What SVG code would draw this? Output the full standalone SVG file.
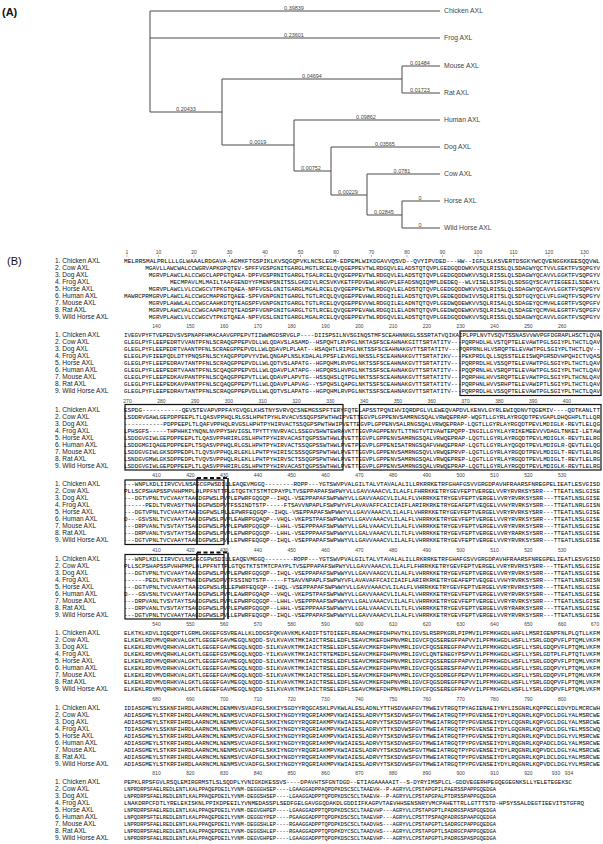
<svg xmlns="http://www.w3.org/2000/svg" width="603" height="844" viewBox="0 0 603 844">
<style>
.pl{font-family:"Liberation Sans",Arial,sans-serif;font-size:11px;fill:#111}
.tr{stroke:#4a4a4a;stroke-width:1;fill:none}
.tl{font-family:"Liberation Sans",Arial,sans-serif;font-size:6.8px;fill:#444}
.bl{font-family:"Liberation Sans",Arial,sans-serif;font-size:5.5px;fill:#444;text-anchor:middle}
.lb{font-family:"Liberation Sans",Arial,sans-serif;font-size:6.6px;fill:#1a1a1a}
.sq{font-family:"Liberation Mono","DejaVu Sans Mono",monospace;font-size:5.5px;fill:#000}
.s8{font-size:5.3px}
.ru{font-family:"Liberation Sans",Arial,sans-serif;font-size:5px;fill:#444;text-anchor:middle}
.bx{fill:none;stroke:#111;stroke-width:1.2}
.vl{stroke:#111;stroke-width:1.6}
.dl{stroke:#111;stroke-width:2;stroke-dasharray:4 2.5}
</style>
<rect width="603" height="844" fill="#fff"/>
<text class="pl" x="2" y="16" font-weight="bold">(A)</text>
<text class="pl" x="7" y="265">(B)</text>

<g id="tree-connectors">
<path class="tr" d="M150,11V112 M150,11H440 M150,38H440 M150,112H222 M222,79V145 M222,79H402 M402,66V93 M402,66H440 M402,93H440 M222,145H294 M294,120V171 M294,120H440 M294,171H331 M331,147V195 M331,147H440 M331,195H367 M367,174V215 M367,174H440 M367,215H402 M402,201V228 M402,201H440 M402,228H440"/>
<text class="bl" x="294" y="9.5">0.39839</text>
<text class="bl" x="294" y="36.5">0.23601</text>
<text class="bl" x="186" y="110.5">0.20433</text>
<text class="bl" x="258" y="143.5">0.0019</text>
<text class="bl" x="312" y="77.5">0.04694</text>
<text class="bl" x="420" y="64.5">0.01484</text>
<text class="bl" x="420" y="91.5">0.01723</text>
<text class="bl" x="366" y="118.5">0.09862</text>
<text class="bl" x="385" y="145.5">0.03565</text>
<text class="bl" x="311" y="169.5">0.00752</text>
<text class="bl" x="402" y="172.5">0.0781</text>
<text class="bl" x="348" y="193.5">0.00229</text>
<text class="bl" x="384" y="213.5">0.02845</text>
<text class="bl" x="420" y="199.5">0</text>
<text class="bl" x="420" y="226.5">0</text>
</g>
<g id="leaf-chicken"><text class="tl" x="444" y="13.4">Chicken AXL</text></g>
<g id="leaf-frog"><text class="tl" x="444" y="40.4">Frog AXL</text></g>
<g id="leaf-mouse"><text class="tl" x="444" y="68.4">Mouse AXL</text></g>
<g id="leaf-rat"><text class="tl" x="444" y="95.4">Rat AXL</text></g>
<g id="leaf-human"><text class="tl" x="444" y="122.4">Human AXL</text></g>
<g id="leaf-dog"><text class="tl" x="444" y="149.4">Dog AXL</text></g>
<g id="leaf-cow"><text class="tl" x="444" y="176.4">Cow AXL</text></g>
<g id="leaf-horse"><text class="tl" x="444" y="203.4">Horse AXL</text></g>
<g id="leaf-wildhorse"><text class="tl" x="444" y="230.4">Wild Horse AXL</text></g>

<!-- Block 1 -->
<g id="block1" transform="translate(0,4)">
<g class="ru"><text x="127" y="249.8">1</text><text x="158.5" y="249.8">10</text><text x="194" y="249.8">20</text><text x="229.5" y="249.8">30</text><text x="265" y="249.8">40</text><text x="300.5" y="249.8">50</text><text x="336" y="249.8">60</text><text x="371.5" y="249.8">70</text><text x="407" y="249.8">80</text><text x="442.5" y="249.8">90</text><text x="478" y="249.8">100</text><text x="513.5" y="249.8">110</text><text x="549" y="249.8">120</text><text x="584.5" y="249.8">130</text></g>
<path stroke="#666" stroke-width="0.5" d="M127,251V253 M158.5,251V253 M194,251V253 M229.5,251V253 M265,251V253 M300.5,251V253 M336,251V253 M371.5,251V253 M407,251V253 M442.5,251V253 M478,251V253 M513.5,251V253 M549,251V253 M584.5,251V253"/>
<text class="lb" x="55" y="258.7">1. Chicken AXL</text>
<text class="lb" x="55" y="265.7">2. Cow AXL</text>
<text class="lb" x="55" y="272.7">3. Dog AXL</text>
<text class="lb" x="55" y="279.7">4. Frog AXL</text>
<text class="lb" x="55" y="286.7">5. Horse AXL</text>
<text class="lb" x="55" y="293.7">6. Human AXL</text>
<text class="lb" x="55" y="300.7">7. Mouse AXL</text>
<text class="lb" x="55" y="307.7">8. Rat AXL</text>
<text class="lb" x="55" y="314.7">9. Wild Horse AXL</text>
<text class="sq" x="124" y="258.7" textLength="476" lengthAdjust="spacingAndGlyphs">MELRRSMALPRLLLLGLWAAALRDGAVA-AGMKFTGSPIKLKVSQGQPVKLNCSLEGM-EDPEMLWIKDGAVVQSVD--QVYIPVDED---HW--IGFLSLKSVERTDSGKYWCQVENGGKKEESQQVWL</text>
<text class="sq" x="145.2" y="265.7" textLength="454.8" lengthAdjust="spacingAndGlyphs">MGAVLLAWCWALCCWGRVAPKGPQTEV-SPFFVGSPGNITGARGLMGTLRCELQVQGEPPEVTWLRDGQVLELADSTQTQVPLGEDGQDDWKVVSQLRISSLQLSDAGWYQCTVVLGEKTFVSQPGYV</text>
<text class="sq" x="148.8" y="272.7" textLength="451.2" lengthAdjust="spacingAndGlyphs">MGRVPLAWCLALCCWGCLAPPGTQAEA-DPFVGSPRNITGARGLTGALRCELQVQGEPPEVTWLRDGQVLELADSTQTQVPLGEDGQDDWKVVSQLRISSLQLSDAGWYQCAVVLGGKTFVSQPGYV</text>
<text class="sq" x="170" y="279.7" textLength="430" lengthAdjust="spacingAndGlyphs">MECMPAVLMLMAILTAAFGENDYYFMENPSNITSSLGKDIVLRCSVKVKETFPDVEWLHNGVPLEFADSNQIQMPLDEDEQ--WLVISELSIPSLQLSDSGQYSCAVTIEGEEILSDEAYL</text>
<text class="sq" x="148.8" y="286.7" textLength="451.2" lengthAdjust="spacingAndGlyphs">MGRVPLAWCLVLCCWGCVTPKGTQAEA-NPFVGSLGNITGARGLMGALRCELQVQGEPPEVTWLRDGQVLELADSTQTQVPLGEDGQDDWKVVSQLRISSLQLSDAGWYQCAVVLGGKTFVSQPGYV</text>
<text class="sq" x="124" y="293.7" textLength="476" lengthAdjust="spacingAndGlyphs">MAWRCPRMGRVPLAWCLALCCWGCMAPRGTQAEE-SPFVGNPGNITGARGLTGTLRCQLQVQGEPPEVHWLRDGQILELADSTQTQVPLGEDEQDDWIVVSQLRITSLQLSDTGQYQCLVFLGHQTFVSQPGYV</text>
<text class="sq" x="148.8" y="300.7" textLength="451.2" lengthAdjust="spacingAndGlyphs">MGRVPLAWWLALCCWGCAAHKDTQTEAGSPFVGNPGNITGARGLTGTLRCELQVQGEPPEVVWLRDGQILELADNTQTQVPLGEDWQDEWKVVSQLRISALQLSDAGEYQCMVHLEGRTFVSQPGFV</text>
<text class="sq" x="148.8" y="307.7" textLength="451.2" lengthAdjust="spacingAndGlyphs">MGRVPLAWCVALCCWGCAAPKDTQTEADSPFVGNPGNITGARGLTGTLRCELQVQGEPPEVAWLRDGQILELADNTQTQVPLGEDWQDEWKVVSQLRISALQLSDAGEYQCMVHLEGRTFVSQPGFV</text>
<text class="sq" x="148.8" y="314.7" textLength="451.2" lengthAdjust="spacingAndGlyphs">MGRVPLAWCLVLCCWGCVTPKGTQAEA-NPFVGSLGNITGARGLMGALRCELQVQGEPPEVTWLRDGQVLELADSTQTQVPLGEDGQDDWKVVSQLRISSLQLSDAGWYQCAVVLGGKTFVSQPGYV</text>
</g>

<!-- Block 2 -->
<g id="block2" transform="translate(0,3.5)">
<g class="ru"><text x="156.5" y="324.8">140</text><text x="190.3" y="324.8">150</text><text x="224.1" y="324.8">160</text><text x="257.9" y="324.8">170</text><text x="291.7" y="324.8">180</text><text x="325.5" y="324.8">190</text><text x="359.3" y="324.8">200</text><text x="393.1" y="324.8">210</text><text x="426.9" y="324.8">220</text><text x="460.7" y="324.8">230</text><text x="494.5" y="324.8">240</text><text x="528.3" y="324.8">250</text><text x="562.1" y="324.8">260</text></g>
<text class="lb" x="55" y="333.7">1. Chicken AXL</text>
<text class="lb" x="55" y="340.7">2. Cow AXL</text>
<text class="lb" x="55" y="347.7">3. Dog AXL</text>
<text class="lb" x="55" y="354.7">4. Frog AXL</text>
<text class="lb" x="55" y="361.7">5. Horse AXL</text>
<text class="lb" x="55" y="368.7">6. Human AXL</text>
<text class="lb" x="55" y="375.7">7. Mouse AXL</text>
<text class="lb" x="55" y="382.7">8. Rat AXL</text>
<text class="lb" x="55" y="389.7">9. Wild Horse AXL</text>
<text class="sq" x="124" y="333.7" textLength="476" lengthAdjust="spacingAndGlyphs">IVEGVPYFTVEPEDVSVSPNAPFHMACAAVGPPEPVTIIWWMGDSRVGLP----DIISPSILNVSGINQSTMFSCEAHNNKGLSSSRTATVQIKAIPLPPLNVTVSQVTSSNASVVWVPGFDGRAPLHSCTLQVA</text>
<text class="sq" x="124" y="340.7" textLength="476" lengthAdjust="spacingAndGlyphs">GLEGLPYFLEEPEDRTVVANTPFNLSCRAQGPPEPVDLLWLQDAVSLASAMD--HSPQHTLRVPGLNKTASFSCEAHNAKGITTSRTATITV---PQRPHDLHLVSTQPTELEVAWTPGLSGIYPLTHCTLQAV</text>
<text class="sq" x="124" y="347.7" textLength="476" lengthAdjust="spacingAndGlyphs">GLEGLPYFLEEPEDRTVAANTPFNLSCRAEGPPEPVDLLWLQDAVPLPLAAT--HSAQHTLRIPGLNKTSSFSCEAHNAKGVTTSRTATITV---PQRPRNLHLVSRQPTELEVAWTPGLSGIYPLTHCTLQV--</text>
<text class="sq" x="124" y="354.7" textLength="476" lengthAdjust="spacingAndGlyphs">ELEGLPVFIEEPQDLDTYPNQSFNLSCYAQGPPDPVYVIWLQNGAPLNSLKDALALPPSFLEVKGLNKSSLFSCEAHNAKGVTTSRTATIKV---PEKPRDLQLLSQSSTELEISWQPGRSDVHPQHICTVQAS</text>
<text class="sq" x="124" y="361.7" textLength="476" lengthAdjust="spacingAndGlyphs">GLEGLPYFLEEPEDRAVTANTPFNLSCRAQGPPEPVDLLWLQDTVSLAPATG--HGPQHMLRVPGLNKTSSFSCEAHNAKGVTTSRTATITV---PQRPRDLHLVSSQPTELEVAWTPGLSGIYPLTHCTLQAV</text>
<text class="sq" x="124" y="368.7" textLength="476" lengthAdjust="spacingAndGlyphs">GLEGLPYFLEEPEDRTVAANTPFNLSCQAQGPPEPVDLLWLQDAVPLATAPG--HGPQRSLHVPGLNKTSSFSCEAHNAKGVTTSRTATITV---PQQPRNLHLVSRQPTELEVAWTPGLSGIYPLTHCTLQAV</text>
<text class="sq" x="124" y="375.7" textLength="476" lengthAdjust="spacingAndGlyphs">GLEGLPYFLEEPEDKAVPANTPFNLSCQAQGPPEPVTLLWLQDAVPLAPVTG--HSSQHSLQTPGLNKTSSFSCEAHNAKGVTTSRTATITV---PQRPHHLHVVSRQPTELEVAWTPGLSGIYPLTHCNLQAV</text>
<text class="sq" x="124" y="382.7" textLength="476" lengthAdjust="spacingAndGlyphs">GLEGLPYFLEEPEDKAVPANTPFNLSCQAQGPPEPVTLLWLQDAVPLAPVAG--YSPQHSLQAPGLNKTSSFSCEAHNAKGVTTSRTATITV---PQRPHNLHVVSRHPTELEVAWIPTLSGIYPLTHCTLQAV</text>
<text class="sq" x="124" y="389.7" textLength="476" lengthAdjust="spacingAndGlyphs">GLEGLPYFLEEPEDRAVTANTPFNLSCRAQGPPEPVDLLWLQDTVSLAPATG--HGPQHMLRVPGLNKTSSFSCEAHNAKGVTTSRTATITV---PQRPRDLHLVSSQPTELEVAWTPGLSGIYPLTHCTLQAV</text>
<rect class="bx" x="460" y="327.5" width="141" height="64.5"/>
</g>

<!-- Block 3 -->
<g id="block3" transform="translate(0,3)">
<g class="ru"><text x="127.5" y="399.8">270</text><text x="161.3" y="399.8">280</text><text x="195.1" y="399.8">290</text><text x="228.9" y="399.8">300</text><text x="262.7" y="399.8">310</text><text x="296.5" y="399.8">320</text><text x="330.3" y="399.8">330</text><text x="364.1" y="399.8">340</text><text x="397.9" y="399.8">350</text><text x="431.7" y="399.8">360</text><text x="465.5" y="399.8">370</text><text x="499.3" y="399.8">380</text><text x="533.1" y="399.8">390</text><text x="566.9" y="399.8">400</text></g>
<text class="lb" x="55" y="408.7">1. Chicken AXL</text>
<text class="lb" x="55" y="415.7">2. Cow AXL</text>
<text class="lb" x="55" y="422.7">3. Dog AXL</text>
<text class="lb" x="55" y="429.7">4. Frog AXL</text>
<text class="lb" x="55" y="436.7">5. Horse AXL</text>
<text class="lb" x="55" y="443.7">6. Human AXL</text>
<text class="lb" x="55" y="450.7">7. Mouse AXL</text>
<text class="lb" x="55" y="457.7">8. Rat AXL</text>
<text class="lb" x="55" y="464.7">9. Wild Horse AXL</text>
<text class="sq" x="124" y="408.7" textLength="476" lengthAdjust="spacingAndGlyphs">ESPDG-----------QEVSTEVAPVPPFAYGVQGLKHSTNYSVRVQCSNEMGSSPFTERYFQTELAPSSTPQNIHVIQRDPGLVLEWEQVAPDVLKENVLGYRLEWIQDNVTQGEMIV----QDTKANLTT</text>
<text class="sq" x="124" y="415.7" textLength="476" lengthAdjust="spacingAndGlyphs">LSDDRVGAWLGEPDPPEEPLTLQASVPPHQLRLGSLHPHTPYHLRVACVSSQGPSPWTHWIPVETTEGVPLGPPENVSAMRNGSQALVRWQEPRAP-WQGTLLGYRLAYRGQDTPEVGAPLDHQGHPLTLLQR</text>
<text class="sq" x="124" y="422.7" textLength="476" lengthAdjust="spacingAndGlyphs">-----------PDPPEEPLTLQAFVPPHQLRVGSLHPHTPYHIRVACTSSQGPSPWTHWIPVETTEGVPLGPPENVSALRNGSQALVRWQEPRAP-LQGTLLGYRLAYRGQDTPEVLMDIGLK-REVTLELQG</text>
<text class="sq" x="124" y="429.7" textLength="476" lengthAdjust="spacingAndGlyphs">LPHSGFS-----THPHHKIYNQNLNVPPYSHVIGSLTPYTTYNVRVACLSSEGVSHWTEWRAVKTTEGVPAGPPENVTLTTNGTVTIVAWTEPQPP-INGILLGYKLAYRIKEMEEVVVDAGLTNKEI-LETAW</text>
<text class="sq" x="124" y="436.7" textLength="476" lengthAdjust="spacingAndGlyphs">LSDDGVGIWLGEPDPPEEPLTLQASVPPHRIRLGSLHPHTPYHIRVACASTQGPSSWTHWLPVETTEGVPLGPPENVSAMRNGSQALVRWQEPRAP-LQGTLLGYRLAYRGQDTPEVLMDIGLK-REVTLELRG</text>
<text class="sq" x="124" y="443.7" textLength="476" lengthAdjust="spacingAndGlyphs">LSDDGMGIQAGEPDPPEEPLTSQASVPPHQLRLGSLHPHTPYHIRVACTSSQGPSSWTHWLPVETPEGVPLGPPENISATRNGSQAFVHWQEPRAP-LQGTLLGYRLAYQGQDTPEVLMDIGLR-QEVTLELQG</text>
<text class="sq" x="124" y="450.7" textLength="476" lengthAdjust="spacingAndGlyphs">LSDDGVGIWLGKSDPPEDPLTLQVSVPPHQLRLEKLLPHTPYHIRISCSSSQGPSPWTHWLPVETTEGVPLGPPENVSAMRNGSQVLVRWQEPRVP-LQGTLLGYRLAYRGQDTPEVLMDIGLT-REVTLELRG</text>
<text class="sq" x="124" y="457.7" textLength="476" lengthAdjust="spacingAndGlyphs">LSNDGVGMWLGKSDPPEDPLTVQVSVPPHQLRLEKLLPHTPYHIRVSCTSSQGPSPWTHWLPVETTEGVPLGPPENVSAMRNGSQALVRWQEPREP-LQGTLLGYRLAYRGQDTPEVLMDIGLT-REVTLELRG</text>
<text class="sq" x="124" y="464.7" textLength="476" lengthAdjust="spacingAndGlyphs">LSDDGVGIWLGEPDPPEEPLTLQASVPPHRIRLGSLHPHTPYHIRVACASTQGPSSWTHWLPVETTEGVPLGPPENVSAMRNGSQALVRWQEPRAP-LQGTLLGYRLAYRGQDTPEVLMDIGLK-REVTLELRG</text>
<rect class="bx" x="125" y="401.5" width="218" height="65.5"/>
<rect class="bx" x="359.5" y="401.5" width="241.5" height="65.5"/>
</g>

<!-- Block 4 -->
<g id="block4" transform="translate(0,2.5)">
<g class="ru"><text x="156.5" y="474.8">410</text><text x="190.3" y="474.8">420</text><text x="224.1" y="474.8">430</text><text x="257.9" y="474.8">440</text><text x="291.7" y="474.8">450</text><text x="325.5" y="474.8">460</text><text x="359.3" y="474.8">470</text><text x="393.1" y="474.8">480</text><text x="426.9" y="474.8">490</text><text x="460.7" y="474.8">500</text><text x="494.5" y="474.8">510</text><text x="528.3" y="474.8">520</text><text x="562.1" y="474.8">530</text></g>
<text class="lb" x="55" y="483.7">1. Chicken AXL</text>
<text class="lb" x="55" y="490.7">2. Cow AXL</text>
<text class="lb" x="55" y="497.7">3. Dog AXL</text>
<text class="lb" x="55" y="504.7">4. Frog AXL</text>
<text class="lb" x="55" y="511.7">5. Horse AXL</text>
<text class="lb" x="55" y="518.7">6. Human AXL</text>
<text class="lb" x="55" y="525.7">7. Mouse AXL</text>
<text class="lb" x="55" y="532.7">8. Rat AXL</text>
<text class="lb" x="55" y="539.7">9. Wild Horse AXL</text>
<text class="sq" x="124" y="483.7" textLength="476" lengthAdjust="spacingAndGlyphs">---WNPLKDLIIRVCVLNSAGCGPWSDILLEAQEVMGGQ--------ROPP---YGTSWVPVALGILTALVTAVALALILLRKRRKETRFGHAFGSVVGRGDPAVHFRAARSFNREGPELIEATLESVGISD</text>
<text class="sq" x="124" y="490.7" textLength="476" lengthAdjust="spacingAndGlyphs">PLLSCPSHAPSSPVHHPMPLHLPPFNTTPLGTQGTKTSTMTCPAYPLTVSEPPAPAFSWPWYVLLGAVVAAACVLILALFLFHRRKKETRYGEVFEPTVERGELVVRYRVRKSYSRR---TTEATLNSLGISE</text>
<text class="sq" x="124" y="497.7" textLength="476" lengthAdjust="spacingAndGlyphs">---DGTVPNLTVCVAAYTAAGDGPWSLPVPLEPWRFGQGQP--IHQL-VSEPPAPAFSWPWWYVLLGAVVAAGCVLILALFLVHRRKKETRYGEVFEPTVERGELVVRYRVRKSYSRR---TTEATLNSLGISE</text>
<text class="sq" x="124" y="504.7" textLength="476" lengthAdjust="spacingAndGlyphs">------PEDLTVRVASYTNAGDGPWSDPVTFSSINDTSTP-----FTSAVVNPAPLFSWPWYVFLAVAVAFFCAICIAIFLARIRKRKETRYGEAFEPTVEQGELVVHYRVRKSYSRR---TTEATLNRLGISN</text>
<text class="sq" x="124" y="511.7" textLength="476" lengthAdjust="spacingAndGlyphs">---DGTVPNLTVCVAAYTAAGDGPWSLPLLEPWRFEQGQP--IHQL-VSEPPAPAFSWPWWYVLLGAVVAAACVLILALFLVHRRKKETRYGEVFEPTVERGELVVRYRVRKSYSRR---TTEATLNSLGISE</text>
<text class="sq" x="124" y="518.7" textLength="476" lengthAdjust="spacingAndGlyphs">D---GSVSNLTVCVAAYTAAGDGPWSLPVPLEAWRPGQAQP--VHQL-VKEPSTPAFSWPWWYVLLGAVVAAACVLILALFLVHRRKKETRYGEVFEPTVERGELVVRYRVRKSYSRR---TTEATLNSLGISE</text>
<text class="sq" x="124" y="525.7" textLength="476" lengthAdjust="spacingAndGlyphs">---DRPVANLTVSVTAYTSAGDGPWSLPVPLEPWRPGQGQP--LHHL-VSEPPPAAFSWPWWYVLLGALVAAACVLILALFLVHRRKKETRYGEVFEPTVERGELVVRYRVRKSYSRR---TTEATLNSLGISE</text>
<text class="sq" x="124" y="532.7" textLength="476" lengthAdjust="spacingAndGlyphs">---DRPVANLTVSVTAYTSAGDGPWSLPVPLEPWRPGQGQP--LHHL-VSEPPPAAFSWPWWYVLLGALVAAACVLILTLFLVHRRKKETRYGEVFEPTVERGELVVRYRARKSYSRR---TTEATLNSLGISE</text>
<text class="sq" x="124" y="539.7" textLength="476" lengthAdjust="spacingAndGlyphs">---DGTVPNLTVCVAAYTAAGDGPWSLPVLLEPWRFEQGQP--IHQL-VSEPPAPAFSWPWWYVLLGAVVAAACVLILALFLVHRRKKETRYGEVFEPTVERGELVVRYRVRKSYSRR---TTEATLNSLGISE</text>
<rect class="bx" x="125" y="477.5" width="99" height="64.5"/>
<line class="vl" x1="197" y1="475.5" x2="197" y2="542"/>
<line class="vl" x1="228" y1="475.5" x2="228" y2="542" stroke-width="1"/>
<line class="dl" x1="197" y1="475.5" x2="228" y2="475.5"/>
</g>

<!-- Block 5 -->
<g id="block5" transform="translate(0,2)">
<g class="ru"><text x="156.5" y="549.8">410</text><text x="190.3" y="549.8">420</text><text x="224.1" y="549.8">430</text><text x="257.9" y="549.8">440</text><text x="291.7" y="549.8">450</text><text x="325.5" y="549.8">460</text><text x="359.3" y="549.8">470</text><text x="393.1" y="549.8">480</text><text x="426.9" y="549.8">490</text><text x="460.7" y="549.8">500</text><text x="494.5" y="549.8">510</text><text x="528.3" y="549.8">520</text><text x="562.1" y="549.8">530</text></g>
<text class="lb" x="55" y="558.7">1. Chicken AXL</text>
<text class="lb" x="55" y="565.7">2. Cow AXL</text>
<text class="lb" x="55" y="572.7">3. Dog AXL</text>
<text class="lb" x="55" y="579.7">4. Frog AXL</text>
<text class="lb" x="55" y="586.7">5. Horse AXL</text>
<text class="lb" x="55" y="593.7">6. Human AXL</text>
<text class="lb" x="55" y="600.7">7. Mouse AXL</text>
<text class="lb" x="55" y="607.7">8. Rat AXL</text>
<text class="lb" x="55" y="614.7">9. Wild Horse AXL</text>
<text class="sq" x="124" y="558.7" textLength="476" lengthAdjust="spacingAndGlyphs">---WNPLKDLIIRVCVLNSAGCGPWSDILLEAQEVMGGQ--------ROPP---YGTSWVPVALGILTALVTAVALALILLRKRRKETRFGHAFGSVVGRGDPAVHFRAARSFNREGPELIEATLESVGISD</text>
<text class="sq" x="124" y="565.7" textLength="476" lengthAdjust="spacingAndGlyphs">PLLSCPSHAPSSPVHHPMPLHLPPFNTTPLGTQGTKTSTMTCPAYPLTVSEPPAPAFSWPWYVLLGAVVAAACVLILALFLFHRRKKETRYGEVFEPTVERGELVVRYRVRKSYSRR---TTEATLNSLGISE</text>
<text class="sq" x="124" y="572.7" textLength="476" lengthAdjust="spacingAndGlyphs">---DGTVPNLTVCVAAYTAAGDGPWSLPVPLEPWRFGQGQP--IHQL-VSEPPAPAFSWPWWYVLLGAVVAAGCVLILALFLVHRRKKETRYGEVFEPTVERGELVVRYRVRKSYSRR---TTEATLNSLGISE</text>
<text class="sq" x="124" y="579.7" textLength="476" lengthAdjust="spacingAndGlyphs">------PEDLTVRVASYTNAGDGPWSDPVTFSSINDTSTP-----FTSAVVNPAPLFSWPWYVFLAVAVAFFCAICIAIFLARIRKRKETRYGEAFEPTVEQGELVVHYRVRKSYSRR---TTEATLNRLGISN</text>
<text class="sq" x="124" y="586.7" textLength="476" lengthAdjust="spacingAndGlyphs">---DGTVPNLTVCVAAYTAAGDGPWSLPLLEPWRFEQGQP--IHQL-VSEPPAPAFSWPWWYVLLGAVVAAACVLILALFLVHRRKKETRYGEVFEPTVERGELVVRYRVRKSYSRR---TTEATLNSLGISE</text>
<text class="sq" x="124" y="593.7" textLength="476" lengthAdjust="spacingAndGlyphs">D---GSVSNLTVCVAAYTAAGDGPWSLPVPLEAWRPGQAQP--VHQL-VKEPSTPAFSWPWWYVLLGAVVAAACVLILALFLVHRRKKETRYGEVFEPTVERGELVVRYRVRKSYSRR---TTEATLNSLGISE</text>
<text class="sq" x="124" y="600.7" textLength="476" lengthAdjust="spacingAndGlyphs">---DRPVANLTVSVTAYTSAGDGPWSLPVPLEPWRPGQGQP--LHHL-VSEPPPAAFSWPWWYVLLGALVAAACVLILALFLVHRRKKETRYGEVFEPTVERGELVVRYRVRKSYSRR---TTEATLNSLGISE</text>
<text class="sq" x="124" y="607.7" textLength="476" lengthAdjust="spacingAndGlyphs">---DRPVANLTVSVTAYTSAGDGPWSLPVPLEPWRPGQGQP--LHHL-VSEPPPAAFSWPWWYVLLGALVAAACVLILTLFLVHRRKKETRYGEVFEPTVERGELVVRYRARKSYSRR---TTEATLNSLGISE</text>
<text class="sq" x="124" y="614.7" textLength="476" lengthAdjust="spacingAndGlyphs">---DGTVPNLTVCVAAYTAAGDGPWSLPVLLEPWRFEQGQP--IHQL-VSEPPAPAFSWPWWYVLLGAVVAAACVLILALFLVHRRKKETRYGEVFEPTVERGELVVRYRVRKSYSRR---TTEATLNSLGISE</text>
<rect class="bx" x="125" y="552.5" width="99" height="64.5"/>
<line class="vl" x1="197" y1="550.5" x2="197" y2="617"/>
<line class="vl" x1="228" y1="550.5" x2="228" y2="617" stroke-width="1"/>
<line class="dl" x1="197" y1="550.5" x2="228" y2="550.5"/>
</g>

<!-- Block 6 -->
<g id="block6" transform="translate(0,1.5)">
<g class="ru"><text x="156.5" y="624.8">540</text><text x="190.3" y="624.8">550</text><text x="224.1" y="624.8">560</text><text x="257.9" y="624.8">570</text><text x="291.7" y="624.8">580</text><text x="325.5" y="624.8">590</text><text x="359.3" y="624.8">600</text><text x="393.1" y="624.8">610</text><text x="426.9" y="624.8">620</text><text x="460.7" y="624.8">630</text><text x="494.5" y="624.8">640</text><text x="528.3" y="624.8">650</text><text x="562.1" y="624.8">660</text><text x="595" y="624.8">670</text></g>
<text class="lb" x="55" y="633.7">1. Chicken AXL</text>
<text class="lb" x="55" y="640.7">2. Cow AXL</text>
<text class="lb" x="55" y="647.7">3. Dog AXL</text>
<text class="lb" x="55" y="654.7">4. Frog AXL</text>
<text class="lb" x="55" y="661.7">5. Horse AXL</text>
<text class="lb" x="55" y="668.7">6. Human AXL</text>
<text class="lb" x="55" y="675.7">7. Mouse AXL</text>
<text class="lb" x="55" y="682.7">8. Rat AXL</text>
<text class="lb" x="55" y="689.7">9. Wild Horse AXL</text>
<text class="sq" x="124" y="633.7" textLength="476" lengthAdjust="spacingAndGlyphs">ELKTKLKDVLIQEQDFTLGRMLGKGEFGSVREALLKLDDGSFQKVAVKMLKADIFTSTDIEEFLREAACMKEFDHPHVTKLIGVSLRSRPKGRLPIPMVILPFMKHGDLHAFLLMSRIGENPFNLPLQTLLKFM</text>
<text class="sq" x="124" y="640.7" textLength="476" lengthAdjust="spacingAndGlyphs">ELKEKLRDVMVQRHKVALGKTLGEGEFGAVMEGQLNQDD-SVLKVAVKTMKIAICTRSELEDFLSEAVCMKEFDHPNVMRLIGVCFQGSEREGFPAPVVILPFMKHGDLHSFLLYSRLGDQPVFLPTQMLVKFM</text>
<text class="sq" x="124" y="647.7" textLength="476" lengthAdjust="spacingAndGlyphs">ELKEKLRDVMVQRHKVALGKTLGEGEFGAVMEGQLNQDD-SILKVAVKTMKIAICTRSELEDFLSEAVCMKEFDHPNVMRLIGVCFQGSEREGFPAPVVILPFMKHGDLHSFLLYSRLGDQPVFLPTQMLVKFM</text>
<text class="sq" x="124" y="654.7" textLength="476" lengthAdjust="spacingAndGlyphs">DLKEKLRDVMVQRHKLALGKTLGEGEFGSVMEGQLNQDD-YILKVAVKTMKIAICTRTEMEDFLSEAVCMKEFDHPNVMRLIGVCLQNTENEGYPSPVVILPFMKHGDLHSFLLYSRLGDTPLFLPTQTLVKFM</text>
<text class="sq" x="124" y="661.7" textLength="476" lengthAdjust="spacingAndGlyphs">ELKEKLRDVMVQRHKVALGKTLGEGEFGAVMEGQLNQDD-SILKVAVKTMKIAICTRSELEDFLSEAVCMKEFDHPNVMRLIGVCFQGSEREGFPAPVVILPFMKHGDLHSFLLYSRLGDQPVFLPTQMLVKFM</text>
<text class="sq" x="124" y="668.7" textLength="476" lengthAdjust="spacingAndGlyphs">ELKEKLRDVMVDRHKVALGKTLGEGEFGAVMEGQLNQDD-SILKVAVKTMKIAICTRSELEDFLSEAVCMKEFDHPNVMRLIGVCFQGSERESFPAPVVILPFMKHGDLHSFLLYSRLGDQPVYLPTQMLVKFM</text>
<text class="sq" x="124" y="675.7" textLength="476" lengthAdjust="spacingAndGlyphs">ELKEKLRDVMVDRHKVALGKTLGEGEFGAVMEGQLNQDD-SILKVAVKTMKIAICTRSELEDFLSEAVCMKEFDHPNVMRLIGVCFQGSDREGFPEPVVILPFMKHGDLHSFLLYSRLGDQPVFLPTQMLVKFM</text>
<text class="sq" x="124" y="682.7" textLength="476" lengthAdjust="spacingAndGlyphs">ELKEKLRDVMVDRHKVALGKTLGEGEFGAVMEGQLNQDD-SILKVAVKTMKIAICTRSELEDFLSEAVCMKEFDHPNVMRLIGVCFQGSDREGFPEPVVILPFMKHGDLHSFLLYSRLGDQPVFLPTQMLVKFM</text>
<text class="sq" x="124" y="689.7" textLength="476" lengthAdjust="spacingAndGlyphs">ELKEKLRDVMVQRHKVALGKTLGEGEFGAVMEGQLNQDD-SILKVAVKTMKIAICTRSELEDFLSEAVCMKEFDHPNVMRLIGVCFQGSEREGFPAPVVILPFMKHGDLHSFLLYSRLGDQPVFLPTQMLVKFM</text>
</g>

<!-- Block 7 -->
<g id="block7" transform="translate(0,1)">
<g class="ru"><text x="156.5" y="699.8">680</text><text x="190.3" y="699.8">690</text><text x="224.1" y="699.8">700</text><text x="257.9" y="699.8">710</text><text x="291.7" y="699.8">720</text><text x="325.5" y="699.8">730</text><text x="359.3" y="699.8">740</text><text x="393.1" y="699.8">750</text><text x="426.9" y="699.8">760</text><text x="460.7" y="699.8">770</text><text x="494.5" y="699.8">780</text><text x="528.3" y="699.8">790</text><text x="562.1" y="699.8">800</text></g>
<text class="lb" x="55" y="708.7">1. Chicken AXL</text>
<text class="lb" x="55" y="715.7">2. Cow AXL</text>
<text class="lb" x="55" y="722.7">3. Dog AXL</text>
<text class="lb" x="55" y="729.7">4. Frog AXL</text>
<text class="lb" x="55" y="736.7">5. Horse AXL</text>
<text class="lb" x="55" y="743.7">6. Human AXL</text>
<text class="lb" x="55" y="750.7">7. Mouse AXL</text>
<text class="lb" x="55" y="757.7">8. Rat AXL</text>
<text class="lb" x="55" y="764.7">9. Wild Horse AXL</text>
<text class="sq" x="124" y="708.7" textLength="476" lengthAdjust="spacingAndGlyphs">IDIASGMEYLSSKNFIHRDLAARNCMLDENMNVSVADFGLSKKIYSGDYYRQGCASKLPVKWLALESLADNLYTTHSDVWAFGVTMWEIVTRGQTPYAGIENAEIYNYLISGNRLKQPPECLEDVYDLMCRCWH</text>
<text class="sq" x="124" y="715.7" textLength="476" lengthAdjust="spacingAndGlyphs">ADIASGMEYLSTKRFIHRDLAARNCMLNENMSVCVADFGLSKKIYNGDYYRQGRIAKMPVKWIAIESLADRVYTSKSDVWSFGVTMWEIATRGQTPYPGVENSEIYDYLRQGNRLKQPVDCLDGLYALMSRCWE</text>
<text class="sq" x="124" y="722.7" textLength="476" lengthAdjust="spacingAndGlyphs">ADIASGMEYLSTKRFIHRDLAARNCMLNENMSVCVADFGLSKKIYNGDYYRQGRIAKMPVKWIAIESLADRVYTSKSDVWSFGVTMWEIATRGQTPYPGVENSEIYDYLCQGNRLKQPVGCLDGLYALMSRCWE</text>
<text class="sq" x="124" y="729.7" textLength="476" lengthAdjust="spacingAndGlyphs">TDIASGMAYLSSKNFIHRDLAARNCMLNENMNVCVADFGLSKKIYNGDYYRQGRIAKMPVKWIAIESLADRVYTTKSDVWSFGVTMWEIATRGQTPYPGVENSEIYDYLGQGNRLKQPVDCLDGLYELMSSCWQ</text>
<text class="sq" x="124" y="736.7" textLength="476" lengthAdjust="spacingAndGlyphs">ADIASGMEYLSTKRFIHRDLAARNCMLNENMSVCVADFGLSKKIYNGDYYRQGRIAKMPVKWIAIESLADRVYTSKSDVWSFGVTMWEIATRGQTPYPGVENSEIYDYLRQGNRLKQPVDCLDGLYVLMSRCWE</text>
<text class="sq" x="124" y="743.7" textLength="476" lengthAdjust="spacingAndGlyphs">ADIASGMEYLSTKRFIHRDLAARNCMLNENMSVCVADFGLSKKIYNGDYYRQGRIAKMPVKWIAIESLADRVYTSKSDVWSFGVTMWEIATRGQTPYPGVENSEIYDYLRQGNRLKQPADCLDGLYALMSRCWE</text>
<text class="sq" x="124" y="750.7" textLength="476" lengthAdjust="spacingAndGlyphs">ADIASGMEYLSTKRFIHRDLAARNCMLNENMSVCVADFGLSKKIYNGDYYRQGRIAKMPVKWIAIESLADRVYTSKSDVWSFGVTMWEIATRGQTPYPGVENSEIYDYLRQGNRLKQPVDCLDGLYALMSRCWE</text>
<text class="sq" x="124" y="757.7" textLength="476" lengthAdjust="spacingAndGlyphs">ADIASGMEYLSTKRFIHRDLAARNCMLNENMSVCVADFGLSKKIYNGDYYRQGRIAKMPVKWIAIESLADRVYTSKSDVWSFGVTMWEIATRGQTPYPGVENSEIYDYLRQGNRLKQPLDCLDGLYALMSRCWE</text>
<text class="sq" x="124" y="764.7" textLength="476" lengthAdjust="spacingAndGlyphs">ADIASGMEYLSTKRFIHRDLAARNCMLNENMSVCVADFGLSKKIYNGDYYRQGRIAKMPVKWIAIESLADRVYTSKSDVWSFGVTMWEIATRGQTPYPGVENSEIYDYLRQGNRLKQPVDCLDGLYVLMSRCWE</text>
</g>

<!-- Block 8 -->
<g id="block8" transform="translate(0,0.5)">
<g class="ru"><text x="156.5" y="774.8">810</text><text x="190.3" y="774.8">820</text><text x="224.1" y="774.8">830</text><text x="257.9" y="774.8">840</text><text x="291.7" y="774.8">850</text><text x="325.5" y="774.8">860</text><text x="359.3" y="774.8">870</text><text x="393.1" y="774.8">880</text><text x="426.9" y="774.8">890</text><text x="460.7" y="774.8">900</text><text x="494.5" y="774.8">910</text><text x="528.3" y="774.8">920</text><text x="556" y="774.8">930</text><text x="569" y="774.8">934</text></g>
<text class="lb" x="55" y="783.7">1. Chicken AXL</text>
<text class="lb" x="55" y="790.7">2. Cow AXL</text>
<text class="lb" x="55" y="797.7">3. Dog AXL</text>
<text class="lb" x="55" y="804.7">4. Frog AXL</text>
<text class="lb" x="55" y="811.7">5. Horse AXL</text>
<text class="lb" x="55" y="818.7">6. Human AXL</text>
<text class="lb" x="55" y="825.7">7. Mouse AXL</text>
<text class="lb" x="55" y="832.7">8. Rat AXL</text>
<text class="lb" x="55" y="839.7">9. Wild Horse AXL</text>
<text class="sq s8" x="124" y="783.7" textLength="448" lengthAdjust="spacingAndGlyphs">PEPKLRPSFGVLRSQLEMIRGRMSTLSLSQDPLYVNIGKDKESSVS----DPAVHTSFGNTDGD--ETIAGAAAAAIT--S-DYRYIMSPLCL-GDDVEGERHPEGQEGEGNKSLLYELETEGEKSC</text>
<text class="sq s8" x="124" y="790.7" textLength="372" lengthAdjust="spacingAndGlyphs">LNPRDRPSFAELREDLENTLKALPPAQEPDEILYVNM-DEGGGHSEP----LGAAGGADPPAQPDPKDSCSCLTAAEVH--P-AGRYVLCPSTAPGPILPAERSSPAPPGQEDGA</text>
<text class="sq s8" x="124" y="797.7" textLength="372" lengthAdjust="spacingAndGlyphs">LNPRDRPSFAELREDLENTLKALPPAQEPDEILYVNM-DEGGSHSEP----LGAAGGADPPTQPDPKDSCSCLTAAEVH--P-AGRYVLCPSTAPGPALPTDRSSPAPPGQEDGA</text>
<text class="sq s8" x="124" y="804.7" textLength="460" lengthAdjust="spacingAndGlyphs">LNAKDRPCFDTLYRELEKISKNLPPIKDPEEILYVNMEDASSPLSEDFGELGAVGGQDAKDLGDDIIFKAGPVTAEVHHSENSNRYVMCPAHETTRLLGTTTSTD-HPSYSSALDEGTIEEVITSTGFRQ</text>
<text class="sq s8" x="124" y="811.7" textLength="372" lengthAdjust="spacingAndGlyphs">LNPRDRPSFAELREDLENTLKALPPAQEPDEILYVNM-DEGVGHPEP----LGAAGGADPPTQPDPKDSCSCLTAAEVHP---AGRYVLCPSTAPGPTLPADRGSPASPGQEDGA</text>
<text class="sq s8" x="124" y="818.7" textLength="372" lengthAdjust="spacingAndGlyphs">LNPQDRPSFTELREDLENTLKALPPAQEPDEILYVNM-DEGGGYPEP----PGAAGGADPPTQPDPKDSCSCLTAAEVHP---AGRYVLCPSTTPSPAQPADRGSPAAPGQEDGA</text>
<text class="sq s8" x="124" y="825.7" textLength="372" lengthAdjust="spacingAndGlyphs">LNPRDRPSFAELREDLENTLKALPPAQEPDEILYVNM-DEGGSHLEP----RGAAGGADPPTQPDPKDSCSCLTAADVHS---AGRYVLCPSTAPGPTLSADRGCPAPPGQEDGA</text>
<text class="sq s8" x="124" y="832.7" textLength="372" lengthAdjust="spacingAndGlyphs">LNPRDRPSFAELREDLENTLKALPPAQEPDEILYVNM-DEGGSHLEP----RGAAGGADPPTQPDPKDYCSCLTAADVHS---AGRYVLCPSTAPGPTLSADRGCPAPPGQEDGA</text>
<text class="sq s8" x="124" y="839.7" textLength="372" lengthAdjust="spacingAndGlyphs">LNPRDRPSFAELREDLENTLKALPPAQEPDEILYVNM-DEGVGHPEP----LGAAGGADPPTQPDPKDSCSCLTAAEVHP---AGRYVLCPSTAPGPTLPADRGSPASPGQEDGA</text>
</g>
</svg>
